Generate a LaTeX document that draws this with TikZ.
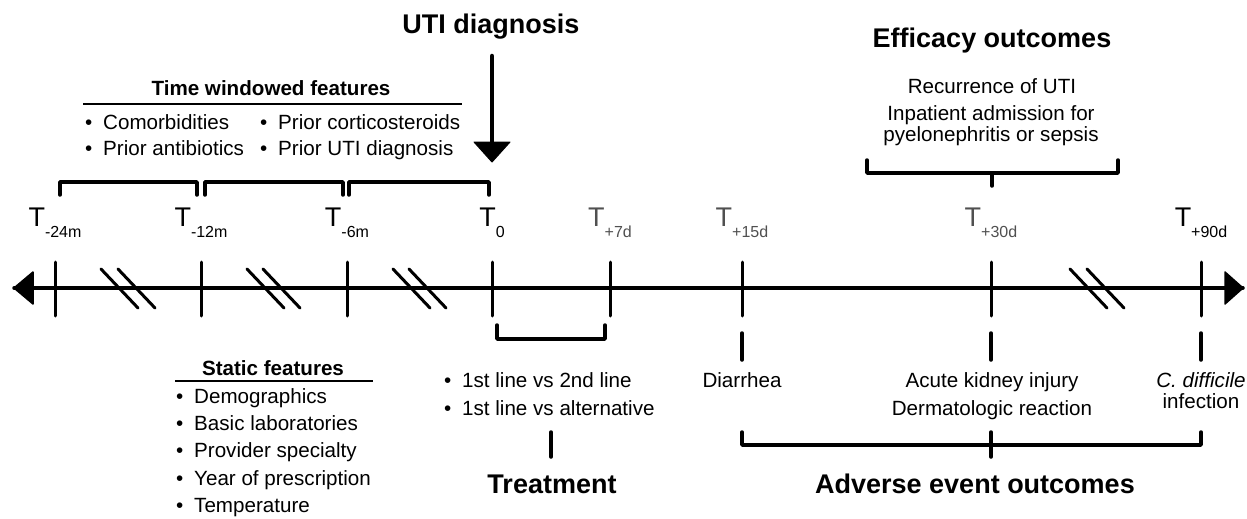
\documentclass[tikz,border=0pt]{standalone}
\usepackage{fontspec}
\setmainfont{Liberation Sans}
\definecolor{tgray}{RGB}{80,80,80}
\newcommand\bl{\makebox[17.5pt][l]{\hspace{-0.5pt}•}}
\newcommand\tlab[1]{T\raisebox{-11pt}{\fontsize{16}{16}\selectfont #1}}
\begin{document}
\begin{tikzpicture}[x=1pt,y=-1pt,
  line cap=round, line join=round,
  axisline/.style={line width=3.5pt},
  tickline/.style={line width=3pt},
  brk/.style={line width=3.5pt},
  slash/.style={line width=3pt},
  head/.style={font=\fontsize{27}{30}\selectfont\bfseries, anchor=base, inner sep=0pt},
  subhead/.style={font=\fontsize{20.6}{22}\selectfont\bfseries, anchor=base, inner sep=0pt},
  body/.style={font=\fontsize{20.6}{22}\selectfont, anchor=base, inner sep=0pt},
  bodyl/.style={body, anchor=base west},
  tl/.style={anchor=base, inner sep=0pt, font=\fontsize{27}{30}\selectfont},
]
\useasboundingbox (0,0) rectangle (1247,519);

% axis
\coordinate (L) at (14,288);
\coordinate (R) at (1243,288);
\draw[axisline] (L) -- (R);
\filldraw[line width=1.5pt] (L) -- ++(19,-16) -- ++(0,32) -- cycle;
\filldraw[line width=1.5pt] (R) -- ++(-18,-16) -- ++(0,32) -- cycle;

% ticks
\foreach \x/\n in {55/a,201/b,347/c,492/d,610/e,742/f,991/g,1201/h}{
  \coordinate (tk\n) at (\x,288);
  \draw[tickline] (\x,262) -- (\x,316);
}

% break marks
\foreach \x in {101,118,247,263,393,409,1070,1087}
  \draw[slash] (\x,269) -- ++(37,39);

% tick labels
\node[tl] (la) at (55,226) {\tlab{-24m}};
\node[tl] (lb) at (201,226) {\tlab{-12m}};
\node[tl] (lc) at (347,226) {\tlab{-6m}};
\node[tl] (ld) at (492,226) {\tlab{0}};
\node[tl,text=tgray] (le) at (610,226) {\tlab{+7d}};
\node[tl,text=tgray] (lf) at (742,226) {\tlab{+15d}};
\node[tl,text=tgray] (lg) at (991,226) {\tlab{+30d}};
\node[tl] (lh) at (1201,226) {\tlab{+90d}};

% time window brackets
\draw[brk] (60,195) -- (60,182) -- (197,182) -- (197,195);
\draw[brk] (205,195) -- (205,182) -- (343,182) -- (343,195);
\draw[brk] (349,195) -- (349,182) -- (489,182) -- (489,195);

% UTI diagnosis
\node[head] (uti) at (491,34) {UTI diagnosis};
\coordinate (arS) at (492,56);
\coordinate (arE) at (492,143);
\draw[line width=4.5pt] (arS) -- (arE);
\filldraw[line width=1pt] (474,142) -- (510,142) -- (492,162) -- cycle;

% Time windowed features
\node[subhead] (twf) at (271,95) {Time windowed features};
\draw[line width=2pt, line cap=butt] (83,104) -- (462,104);
\node[bodyl] (tw1) at (85.5,129) {\bl Comorbidities};
\node[bodyl] (tw2) at (85.5,155) {\bl Prior antibiotics};
\node[bodyl] (tw3) at (260.5,129) {\bl Prior corticosteroids};
\node[bodyl] (tw4) at (260.5,155) {\bl Prior UTI diagnosis};

% Static features
\node[subhead] (sf) at (273,375) {Static features};
\draw[line width=2pt, line cap=butt] (175,381) -- (373,381);
\node[bodyl] (s1) at (176.5,403) {\bl Demographics};
\node[bodyl] (s2) at (176.5,430) {\bl Basic laboratories};
\node[bodyl] (s3) at (176.5,457) {\bl Provider specialty};
\node[bodyl] (s4) at (176.5,485) {\bl Year of prescription};
\node[bodyl] (s5) at (176.5,512) {\bl Temperature};

% Treatment
\draw[brk] (497,325) -- (497,339) -- (605,339) -- (605,325);
\node[bodyl] (tr1) at (444.5,387) {\bl 1st line vs 2nd line};
\node[bodyl] (tr2) at (444.5,415) {\bl 1st line vs alternative};
\coordinate (trA) at (551,432);
\coordinate (trB) at (551,457);
\draw[brk] (trA) -- (trB);
\node[head] (trt) at (552,493) {Treatment};

% Efficacy outcomes
\node[head] (eff) at (992,48) {Efficacy outcomes};
\node[body] (e1) at (992,93) {Recurrence of UTI};
\node[body] (e2) at (991,120) {Inpatient admission for};
\node[body] (e3) at (991,141) {pyelonephritis or sepsis};
\draw[brk] (867,160) -- (867,173) -- (1118,173) -- (1118,160);
\draw[brk] (992,173) -- (992,186);

% Adverse event outcomes
\foreach \x in {742,991,1201}
  \draw[brk] (\x,333) -- (\x,360);
\node[body] (a1) at (742,387) {Diarrhea};
\node[body] (a2) at (992,387) {Acute kidney injury};
\node[body] (a3) at (992,415) {Dermatologic reaction};
\node[body] (a4) at (1201,387) {\itshape C. difficile};
\node[body] (a5) at (1201,408) {infection};
\draw[brk] (742,432) -- (742,445) -- (1201,445) -- (1201,432);
\draw[brk] (991,432) -- (991,457);
\node[head] (adv) at (975,493) {Adverse event outcomes};
\end{tikzpicture}
\end{document}
